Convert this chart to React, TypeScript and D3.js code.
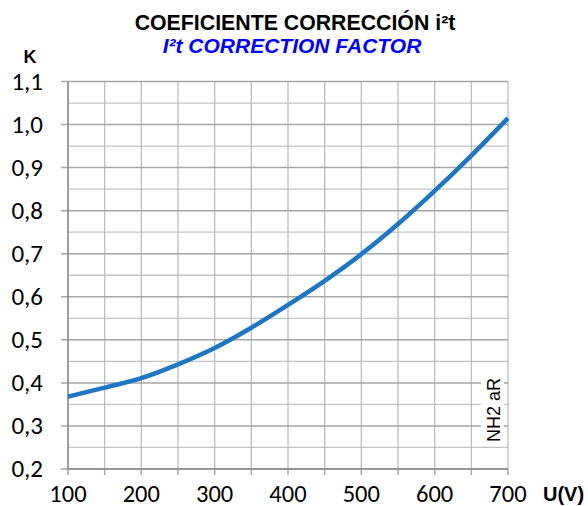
import React from "react";
import * as d3 from "d3";

const voltages = [100, 150, 200, 250, 300, 350, 400, 450, 500, 550, 600, 650, 700];
const kValues = [0.368, 0.389, 0.411, 0.443, 0.481, 0.528, 0.581, 0.637, 0.699, 0.769, 0.846, 0.928, 1.015];
const xTicks = [100, 200, 300, 400, 500, 600, 700];
const xGrid = [100, 150, 200, 250, 300, 350, 400, 450, 500, 550, 600, 650, 700];
const yTicks = [0.2, 0.3, 0.4, 0.5, 0.6, 0.7, 0.8, 0.9, 1.0, 1.1];
const yMinor = [0.25, 0.35, 0.45, 0.55, 0.65, 0.75, 0.85, 0.95, 1.05];

export default function App() {
  const W = 588, H = 506;
  const L = 68, R = 508, T = 81.5, B = 469;
  const x = d3.scaleLinear().domain([100, 700]).range([L, R]);
  const y = d3.scaleLinear().domain([0.2, 1.1]).range([B, T]);
  const line = d3.line<number>().x((_, i) => x(voltages[i])).y(d => y(d)).curve(d3.curveMonotoneX);
  const fmt = (v: number) => v.toFixed(1).replace(".", ",");
  const tickFont = "Carlito, Calibri, 'Open Sans', sans-serif";
  const arial = "'Liberation Sans', Arial, sans-serif";
  return (
    <svg width={W} height={H} style={{ position: "absolute", left: 0, top: 0 }}>
      <rect width={W} height={H} fill="#fff" />
      {yMinor.map(v => (
        <line key={"ym" + v} x1={L} x2={R} y1={y(v)} y2={y(v)} stroke="#c4c4c4" strokeWidth={1.3} />
      ))}
      {xGrid.map(v => (
        <line key={"xg" + v} x1={x(v)} x2={x(v)} y1={T} y2={B} stroke="#bdbdbd" strokeWidth={1.3} />
      ))}
      {yTicks.map(v => (
        <line key={"yt" + v} x1={L - 7} x2={R} y1={y(v)} y2={y(v)} stroke="#a6a6a6" strokeWidth={1.5} />
      ))}
      {xGrid.map(v => (
        <line key={"xt" + v} x1={x(v)} x2={x(v)} y1={B} y2={B + 6} stroke="#a6a6a6" strokeWidth={1.5} />
      ))}
      <line x1={L} x2={L} y1={T} y2={B} stroke="#8c8c8c" strokeWidth={1.5} />
      <line x1={L} x2={R} y1={B} y2={B} stroke="#8c8c8c" strokeWidth={1.5} />
      <path d={line(kValues) || ""} fill="none" stroke="#1f77c4" strokeWidth={4.5} />
      {yTicks.map(v => (
        <text key={"yl" + v} x={43} y={y(v) + 8} textAnchor="end" fontSize={25} fontFamily={tickFont} fill="#000">
          {fmt(v)}
        </text>
      ))}
      {xTicks.map(v => (
        <text key={"xl" + v} x={x(v)} y={502} textAnchor="middle" fontSize={24.5} fontFamily={tickFont} fill="#000">
          {v}
        </text>
      ))}
      <rect x={481} y={370} width={23} height={76} fill="#fff" />
      <g transform={`translate(493,410) rotate(-90)`}>
        <text x={0} y={6.5} textAnchor="middle" fontSize={18} fontFamily={arial} fill="#000">
          NH2 aR
        </text>
      </g>
      <text x={295} y={30} textAnchor="middle" fontSize={21.3} fontWeight="bold" fontFamily={arial} fill="#000">
        COEFICIENTE CORRECCIÓN i²t
      </text>
      <text x={292} y={53} textAnchor="middle" fontSize={21} fontWeight="bold" fontStyle="italic" fontFamily={arial} fill="#0000ff">
        I²t CORRECTION FACTOR
      </text>
      <text x={30} y={63} textAnchor="middle" fontSize={18} fontWeight="bold" fontFamily={arial} fill="#000">
        K
      </text>
      <text x={543} y={501} textAnchor="start" fontSize={20} fontWeight="bold" fontFamily={arial} fill="#000">
        U(V)
      </text>
    </svg>
  );
}
